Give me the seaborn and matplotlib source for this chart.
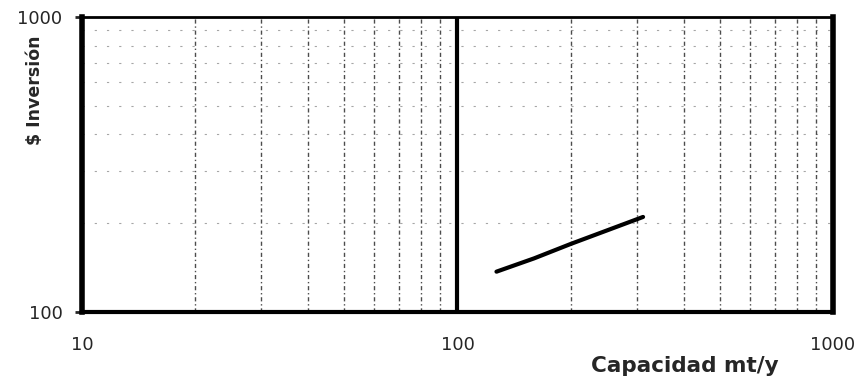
import matplotlib
matplotlib.use("Agg")
import matplotlib.pyplot as plt
import seaborn as sns
import pandas as pd
from matplotlib.ticker import FixedLocator, NullFormatter

# valores (escala log-log)
capacidad = [127, 160, 200, 250, 312]
inversion = [137, 152, 170, 189, 210]

x_ticks = [10, 100, 1000]
y_ticks = [100, 1000]

df = pd.DataFrame({"capacidad": capacidad, "inversion": inversion})

sns.set_style("white")
plt.rcParams['font.family'] = ['DejaVu Sans']

fig = plt.figure(figsize=(8.62, 3.85), dpi=100)
ax = fig.add_axes([82 / 862, 1 - 312 / 385, (833 - 82) / 862, (312 - 17) / 385])

sns.lineplot(data=df, x="capacidad", y="inversion", ax=ax, color="black", linewidth=3)

ax.set_xscale("log")
ax.set_yscale("log")
ax.set_xlim(10, 1000)
ax.set_ylim(100, 1000)

ax.xaxis.set_major_locator(FixedLocator(x_ticks))
ax.yaxis.set_major_locator(FixedLocator(y_ticks))
ax.set_xticklabels([str(v) for v in x_ticks])
ax.set_yticklabels([str(v) for v in y_ticks])
ax.xaxis.set_minor_formatter(NullFormatter())
ax.yaxis.set_minor_formatter(NullFormatter())

# rejilla
ax.grid(False)
ax.axvline(100, color="black", linewidth=3, zorder=1)
for v in [20, 30, 40, 50, 60, 70, 80, 90, 200, 300, 400, 500, 600, 700, 800, 900]:
    ax.axvline(v, color="black", linewidth=1, linestyle=(0, (3, 2, 1, 2)), alpha=0.7, zorder=1)
for v in [200, 300, 400, 500, 600, 700, 800, 900]:
    ax.axhline(v, color="black", linewidth=0.8, linestyle=(0, (2, 9)), alpha=0.35, zorder=1)

for side, lw in [("left", 4), ("bottom", 3), ("right", 4), ("top", 2)]:
    ax.spines[side].set_visible(True)
    ax.spines[side].set_color("black")
    ax.spines[side].set_linewidth(lw)

ax.tick_params(axis="y", which="major", length=5, width=2, pad=9, labelsize=13, left=True)
ax.tick_params(axis="x", which="major", length=0, pad=17, labelsize=13, bottom=True)
ax.tick_params(which="minor", length=0)

ax.set_xlabel("Capacidad mt/y", fontsize=15.5, fontweight="bold")
ax.xaxis.set_label_coords((685 - 82) / 751, -(366 - 312) / 295)
ax.set_ylabel("$ Inversión", fontsize=12.5, fontweight="bold")
ax.yaxis.set_label_coords(-(82 - 35) / 751, 1 - (90 - 17) / 295)
ax.yaxis.label.set_verticalalignment("center")
ax.xaxis.label.set_verticalalignment("center")

plt.savefig("out.png", dpi=100)
